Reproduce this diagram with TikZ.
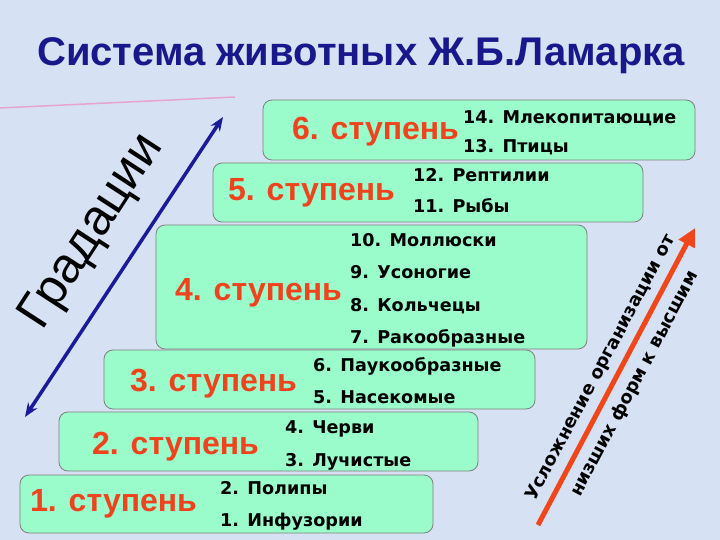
\documentclass[tikz,border=0pt]{standalone}
\usepackage{fontspec}
\setmainfont{Liberation Sans}
\newfontfamily\itemfont{DejaVu Sans}
\usetikzlibrary{arrows.meta}
\definecolor{bgblue}{RGB}{214,225,243}
\definecolor{mint}{RGB}{153,252,202}
\definecolor{stagered}{RGB}{240,66,28}
\definecolor{titleblue}{RGB}{24,24,140}
\definecolor{gradblue}{RGB}{26,26,154}
\definecolor{arrred}{RGB}{240,70,26}
\definecolor{pinkline}{RGB}{236,150,196}
\tikzset{
  stepbox/.style={draw=black!50, fill=mint, rounded corners=9pt, line width=0.8pt, inner sep=0pt},
  stagelbl/.style={text=stagered, font=\fontsize{32}{36}\selectfont\bfseries, anchor=base west, inner sep=0pt},
  itemlbl/.style={font=\itemfont\fontsize{17.6}{20}\selectfont\bfseries, anchor=base west, inner sep=0pt},
  sidetxt/.style={font=\itemfont\fontsize{18}{20}\selectfont\bfseries, rotate=62, inner sep=0pt},
}
\begin{document}
\begin{tikzpicture}[x=1pt,y=-1pt]
\fill[bgblue] (0,0) rectangle (720,540);
\useasboundingbox (0,0) rectangle (720,540);
\draw[pinkline, line width=1.5pt, opacity=0.8] (0,108) -- (235,97);
% title
\node[text=titleblue, font=\fontsize{40}{46}\selectfont\bfseries, anchor=base, inner sep=0pt] (title) at (361,66) {Система животных Ж.Б.Ламарка};
% boxes (bottom to top)
\path[stepbox] (263,100) rectangle (695,160);
\path[stepbox] (213,163) rectangle (643,222);
\path[stepbox] (156,225) rectangle (587,349);
\path[stepbox] (104,350) rectangle (535,409);
\path[stepbox] (59,412) rectangle (478,471);
\path[stepbox] (20,475) rectangle (433,533);
% stage labels
\node[stagelbl] (s6) at (292,140) {6. ступень};
\node[stagelbl] (s5) at (228,201) {5. ступень};
\node[stagelbl] (s4) at (175,300) {4. ступень};
\node[stagelbl] (s3) at (130,391) {3. ступень};
\node[stagelbl] (s2) at (92,454) {2. ступень};
\node[stagelbl] (s1) at (30,511) {1. ступень};
% items
\node[itemlbl] (i14) at (463,124) {14. Млекопитающие};
\node[itemlbl] (i13) at (463,153) {13. Птицы};
\node[itemlbl] (i12) at (413,182) {12. Рептилии};
\node[itemlbl] (i11) at (413,212) {11. Рыбы};
\node[itemlbl] (i10) at (350,247) {10. Моллюски};
\node[itemlbl] (i9) at (350,278) {9. Усоногие};
\node[itemlbl] (i8) at (350,311) {8. Кольчецы};
\node[itemlbl] (i7) at (350,343) {7. Ракообразные};
\node[itemlbl] (i6) at (313,371) {6. Паукообразные};
\node[itemlbl] (i5) at (313,403) {5. Насекомые};
\node[itemlbl] (i4) at (285,433) {4. Черви};
\node[itemlbl] (i3) at (285,466) {3. Лучистые};
\node[itemlbl] (i2) at (220,494) {2. Полипы};
\node[itemlbl] (i1) at (220,526) {1. Инфузории};
% gradation arrow
\coordinate (gtop) at (223,117);
\coordinate (gbot) at (25,417);
\draw[gradblue, line width=3.5pt, {Stealth[length=14pt,width=11pt]}-{Stealth[length=14pt,width=11pt]}] (gbot) -- (gtop);
\node[font=\fontsize{50}{56}\selectfont, rotate=57, inner sep=0pt] (grad) at (93,232) {Градации};
% complexity arrow
\coordinate (rtail) at (538,525);
\coordinate (rtip) at (695,228);
\draw[arrred, line width=5pt, -{Triangle[length=18pt,width=17pt]}] (rtail) -- (rtip);
\node[sidetxt] (c1) at (601,368) {Усложнение организации от};
\node[sidetxt] (c2) at (635,384) {низших форм к высшим};
\end{tikzpicture}
\end{document}
